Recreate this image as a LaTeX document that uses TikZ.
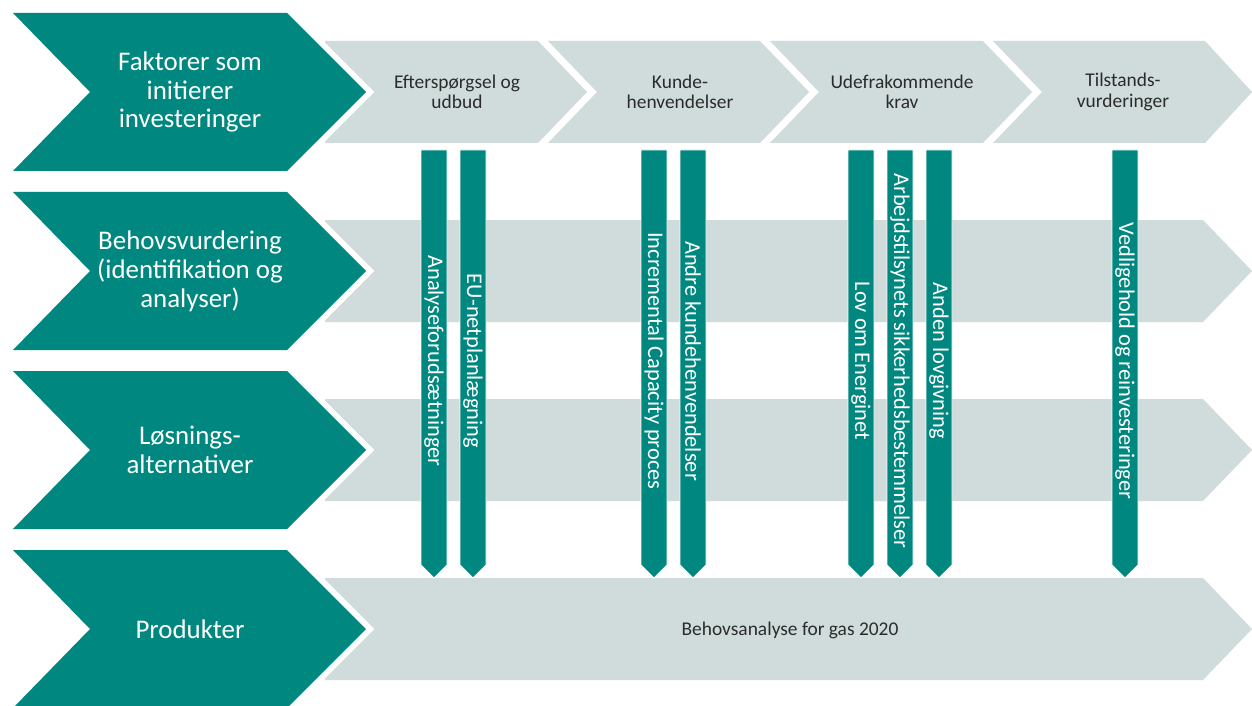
\documentclass[tikz,border=0pt]{standalone}
\usepackage{fontspec}
\setmainfont{Carlito}
\definecolor{brandteal}{HTML}{00877F}
\definecolor{bandgrey}{HTML}{CFDCDB}
\definecolor{textgrey}{HTML}{2B2B2B}
\begin{document}
\begin{tikzpicture}[x=1bp,y=-1bp,
  headbox/.style={fill=brandteal, preaction={draw=white, line width=12bp, line join=miter}},
  bandbox/.style={fill=bandgrey},
  barbox/.style={fill=brandteal, draw=white, line width=0.8bp},
  headtext/.style={text=white, font=\fontsize{27}{29}\selectfont, align=center, inner sep=0pt},
  bandtext/.style={text=textgrey, font=\fontsize{19.5}{20.5}\selectfont, align=center, inner sep=0pt},
  bartext/.style={text=white, font=\fontsize{22.5}{24}\selectfont, rotate=-90, inner sep=0pt},
]
\useasboundingbox (0,0) rectangle (1252,706);
\fill[white] (0,0) rectangle (1252,706);

% grey process bands, top row split into four stages
\path[bandbox] (325,41) -- (538,41) -- (587,92) -- (538,143) -- (325,143) -- cycle;
\path[bandbox] (548,41) -- (760,41) -- (809,92) -- (760,143) -- (548,143) -- (597,92) -- cycle;
\path[bandbox] (770,41) -- (983,41) -- (1032,92) -- (983,143) -- (770,143) -- (819,92) -- cycle;
\path[bandbox] (993,41) -- (1205,41) -- (1252,92) -- (1205,143) -- (993,143) -- (1042,92) -- cycle;
\foreach \t in {220,399,578} {
  \path[bandbox] (325,\t) -- (1203,\t) -- (1252,\t+51) -- (1203,\t+102) -- (325,\t+102) -- cycle;
}

% teal row headers
\foreach \t in {13,192,371,550} {
  \path[headbox] (13,\t) -- (287,\t) -- (366,\t+79) -- (287,\t+158) -- (13,\t+158) -- (90,\t+79) -- cycle;
}
\node[headtext] (h1) at (190,92) {Faktorer som\\initierer\\investeringer};
\node[headtext] (h2) at (190,271) {Behovsvurdering\\(identifikation og\\analyser)};
\node[headtext] (h3) at (190,450) {Løsnings-\\alternativer};
\node[headtext] (h4) at (190,629) {Produkter};

% stage labels
\node[bandtext] (s1) at (457,92) {Efterspørgsel og\\udbud};
\node[bandtext] (s2) at (680,92) {Kunde-\\henvendelser};
\node[bandtext] (s3) at (902,92) {Udefrakommende\\krav};
\node[bandtext] (s4) at (1123,92) {Tilstands-\\vurderinger};
\node[bandtext] (p1) at (790,630) {Behovsanalyse for gas 2020};

% vertical arrows from stages down to the product band
\foreach \x/\name/\txt in {
  421/b1/Analyseforudsætninger,
  460/b2/EU-netplanlægning,
  641/b3/Incremental Capacity proces,
  680/b4/Andre kundehenvendelser,
  848/b5/Lov om Energinet,
  887/b6/Arbejdstilsynets sikkerhedsbestemmelser,
  926/b7/Anden lovgivning,
  1112/b8/Vedligehold og reinvesteringer} {
  \path[barbox] (\x,150) -- (\x+26,150) -- (\x+26,565) -- (\x+13,578) -- (\x,565) -- cycle;
  \node[bartext] (\name) at (\x+13,361) {\txt};
}
\end{tikzpicture}
\end{document}
